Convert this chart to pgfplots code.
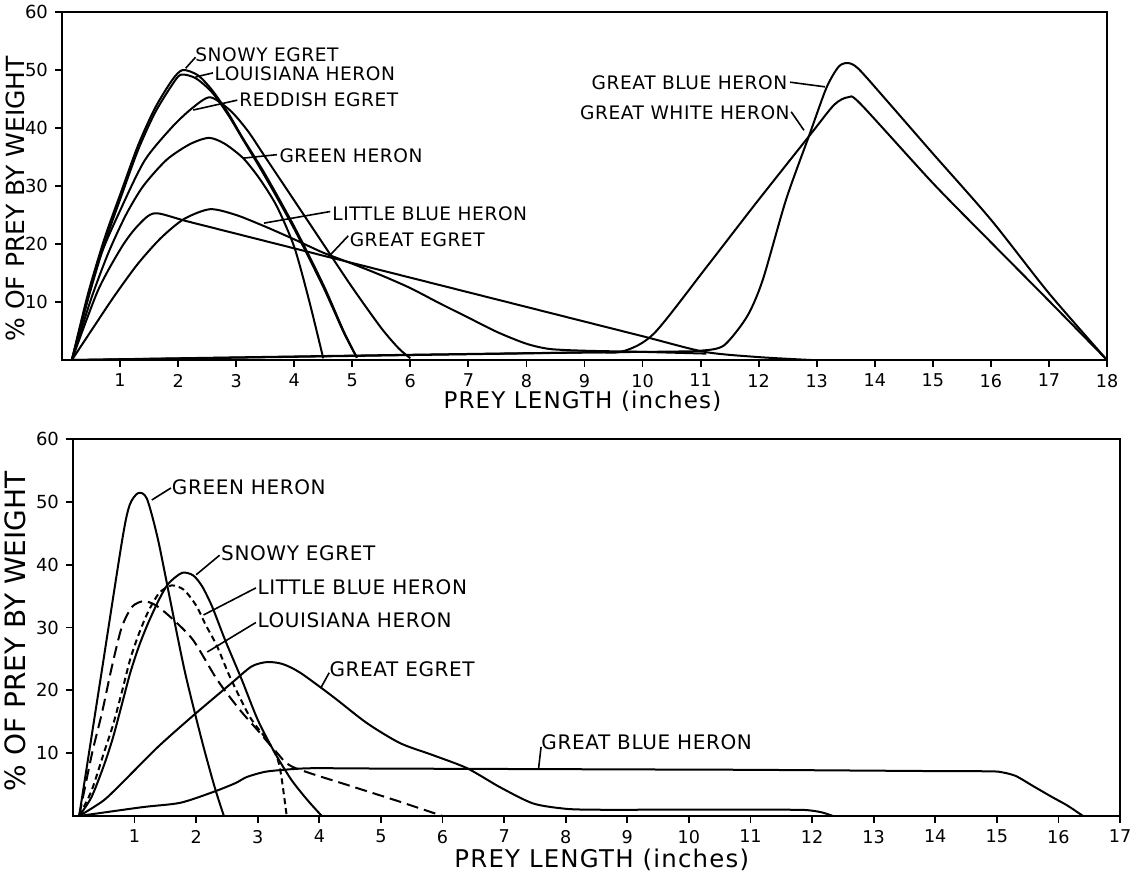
\documentclass[border=0pt]{standalone}
\usepackage{pgfplots}
\pgfplotsset{compat=1.18}
\usepackage{fontspec}
\setmainfont{DejaVu Sans}
\newfontfamily\lbl[LetterSpace=3]{DejaVu Sans}
\newfontfamily\axl[LetterSpace=5]{DejaVu Sans}
\pgfplotsset{
  heron/.style={
    scale only axis,
    axis line style={line width=1pt},
    tick align=outside, xtick pos=bottom, ytick pos=left,
    major tick length=3.5pt,
    tick style={line width=0.9pt, black},
    /pgf/number format/assume math mode=true,
    xticklabel style={font=\fontsize{8.8}{10}\selectfont},
    yticklabel style={font=\fontsize{9}{10}\selectfont},
    ymin=0, ymax=60, ytick={10,20,...,60},
    xmin=0,
    clip=false,
    cycle list={{black,solid,mark=none}},
    every axis plot/.append style={line width=1pt, smooth, tension=0.45},
  },
}
\tikzset{
  lab/.style={anchor=west, inner sep=0pt, font={\lbl\fontsize{9.3}{11}\selectfont}},
  labB/.style={anchor=west, inner sep=0pt, font={\lbl\fontsize{10}{12}\selectfont}},
  lead/.style={line width=0.8pt, black},
}
\begin{document}
\begin{tikzpicture}
\path[use as bounding box] (0,0) rectangle (572pt,436.5pt);
% ---------------- TOP PANEL ----------------
\begin{axis}[heron,
  at={(31pt,256.5pt)}, anchor=south west,
  width=522.5pt, height=174pt,
  xmax=18, xtick={1,...,18},
  xlabel={\axl\fontsize{11.5}{14}\selectfont PREY LENGTH (inches)},
  xlabel style={at={(axis description cs:0.498,-0.118)}, anchor=center},
  ylabel={\fontsize{12.5}{14}\selectfont\% OF PREY BY WEIGHT},
  ylabel style={at={(axis description cs:-0.045,0.463)}, anchor=center},
]
% Snowy Egret
\addplot coordinates {(0.17,0) (0.45,11.5) (0.74,21.2) (1.03,29.3) (1.31,37.0) (1.6,43.4) (1.9,48.3) (2.08,50) (2.34,49.1) (2.58,46.6) (2.86,42.6) (3.1,38.5) (3.5,32) (4.0,23) (4.5,13) (4.85,5) (5.08,0.4)};
% Louisiana Heron
\addplot coordinates {(0.17,0) (0.45,10.6) (0.74,20.3) (1.03,28.5) (1.31,36.2) (1.6,42.6) (1.9,47.5) (2.05,49.2) (2.3,48.6) (2.58,46.2) (2.86,42.3) (3.1,38.3) (3.5,31.6) (4.0,22.6) (4.5,12.6) (4.85,4.8) (5.08,0.4)};
% Reddish Egret
\addplot coordinates {(0.17,0) (0.62,16.7) (1.03,26.4) (1.43,34.5) (1.9,40.2) (2.24,43.4) (2.55,45.3) (2.9,43) (3.2,39.5) (3.5,35) (4.0,27.5) (4.5,20) (5.0,12.5) (5.5,5.5) (5.8,2) (6.0,0.3)};
% Green Heron
\addplot coordinates {(0.17,0) (0.5,10.5) (0.8,18.5) (1.1,25) (1.4,30) (1.8,34.5) (2.2,37.2) (2.53,38.3) (2.8,37.3) (3.12,34.8) (3.4,31.3) (3.7,26.5) (4.0,19.5) (4.25,10.5) (4.5,0.3)};
% Little Blue Heron
\addplot coordinates {(0.17,0) (0.5,5) (0.9,11) (1.3,16.5) (1.7,21) (2.1,24.3) (2.55,26) (3.0,25) (3.5,23) (4.0,20.8) (4.5,18.5) (5.0,16.6) (5.5,14.6) (6.0,12.4) (6.5,9.8) (7.0,7.3) (7.5,4.8) (8.0,2.8) (8.4,1.9) (9,1.6) (10,1.4) (11.1,1.1)};
% Great Egret
\addplot coordinates {(0.17,0) (0.62,12) (1.03,19.5) (1.31,23.2) (1.6,25.3) (2.2,23.8) (4,19.25) (6,14.2) (8,9.15) (10,4.1) (11.07,1.4) (12,0.5) (12.9,0)};
% Great Blue Heron
\addplot coordinates {(0.17,0) (3,0.45) (6,0.9) (9,1.3) (10.5,1.45) (11.0,1.6) (11.4,2.5) (11.8,7.5) (12.07,13.8) (12.47,27.6) (12.88,39) (13.17,47) (13.38,50.6) (13.54,51.2) (13.72,50.2) (14.2,44.8) (15,35.6) (16,24.2) (17,11.5) (18,0)};
% Great White Heron
\addplot coordinates {(0.17,0) (3,0.4) (6,0.85) (9,1.3) (9.66,1.5) (10.2,4.6) (11.1,16) (11.95,27) (12.9,39) (13.3,44) (13.54,45.3) (13.75,44.2) (15,30.5) (16,20.3) (17,10.2) (18,0)};
% labels
\node[lab] at (axis cs:2.29,52.6) {SNOWY EGRET};
\draw[lead] (axis cs:2.13,50.3) -- (axis cs:2.3,52.2);
\node[lab] at (axis cs:2.62,49.4) {LOUISIANA HERON};
\draw[lead] (axis cs:2.3,48.8) -- (axis cs:2.6,49.5);
\node[lab] at (axis cs:3.05,44.8) {REDDISH EGRET};
\draw[lead] (axis cs:2.26,43.1) -- (axis cs:3.02,44.8);
\node[lab] at (axis cs:3.74,35.3) {GREEN HERON};
\draw[lead] (axis cs:3.12,34.8) -- (axis cs:3.7,35.4);
\node[lab] at (axis cs:4.65,25.3) {LITTLE BLUE HERON};
\draw[lead] (axis cs:3.48,23.6) -- (axis cs:4.62,25.6);
\node[lab] at (axis cs:4.95,20.7) {GREAT EGRET};
\draw[lead] (axis cs:4.62,18.1) -- (axis cs:4.93,21.4);
\node[lab, anchor=east] at (axis cs:12.5,47.8) {GREAT BLUE HERON};
\draw[lead] (axis cs:12.54,47.9) -- (axis cs:13.14,47.1);
\node[lab, anchor=east] at (axis cs:12.54,42.7) {GREAT WHITE HERON};
\draw[lead] (axis cs:12.56,42.8) -- (axis cs:12.78,39.6);
\end{axis}
% ---------------- BOTTOM PANEL ----------------
\begin{axis}[heron,
  at={(36.5pt,28.5pt)}, anchor=south west,
  width=523.5pt, height=188.5pt,
  xmax=17, xtick={1,...,17},
  xlabel={\axl\fontsize{12.2}{14}\selectfont PREY LENGTH (inches)},
  xlabel style={at={(axis description cs:0.505,-0.117)}, anchor=center},
  ylabel={\fontsize{14}{16}\selectfont\% OF PREY BY WEIGHT},
  ylabel style={at={(axis description cs:-0.0554,0.49)}, anchor=center},
]
% Green Heron
\addplot coordinates {(0.1,0) (0.45,22) (0.8,44) (0.92,49.5) (1.06,51.4) (1.2,50.5) (1.38,44) (1.6,33.3) (1.82,22.8) (2.09,12.1) (2.3,4.6) (2.45,0)};
% Snowy Egret
\addplot coordinates {(0.1,0) (0.3,3) (0.5,8) (0.65,12.5) (0.8,18) (0.93,22.8) (1.07,27) (1.22,30.7) (1.4,34.5) (1.55,37) (1.77,38.7) (1.95,38.3) (2.1,36.5) (2.26,33.3) (2.47,28) (2.74,21.7) (3.0,15.3) (3.28,10) (3.55,5.7) (3.81,2.5) (4.04,0)};
% Little Blue Heron
\addplot[densely dashed] coordinates {(0.1,0) (0.3,4) (0.5,10) (0.65,14.5) (0.8,20) (0.93,25) (1.07,29) (1.22,32.5) (1.4,35.5) (1.6,36.7) (1.8,36) (2.0,33.5) (2.15,30.5) (2.34,27) (2.55,22.1) (2.87,15.8) (3.15,12.1) (3.31,9.4) (3.38,6.5) (3.47,0)};
% Louisiana Heron
\addplot[dash pattern=on 6pt off 3pt] coordinates {(0.1,0) (0.31,10) (0.47,16.4) (0.63,23.7) (0.79,30) (0.96,33.3) (1.15,34.2) (1.35,33.5) (1.6,31.5) (1.95,28) (2.34,21.7) (2.7,17) (3.02,13.4) (3.3,10.2) (3.57,7.8) (4.5,4.8) (5.3,2.3) (6.0,0)};
% Great Egret
\addplot coordinates {(0.1,0) (0.5,2.5) (0.84,5.7) (1.38,11) (1.93,15.8) (2.58,21.2) (2.9,23.8) (3.15,24.5) (3.4,24.2) (3.69,22.8) (4.22,19) (4.77,14.8) (5.31,11.6) (5.84,9.7) (6.4,7.6) (6.93,4.6) (7.47,2) (8.0,1.15) (8.5,1.0) (9.5,1.0) (10.5,1.0) (11.5,1.0) (11.9,0.95) (12.15,0.6) (12.34,0)};
% Great Blue Heron
\addplot coordinates {(0.1,0) (1.12,1.4) (1.74,2.1) (2.27,3.8) (2.63,5.2) (2.82,6.2) (3.1,7) (3.36,7.3) (3.85,7.6) (5,7.55) (6.5,7.5) (8,7.45) (9.5,7.4) (11,7.35) (12.5,7.25) (14,7.15) (14.8,7.12) (15.03,7.05) (15.3,6.4) (15.6,4.7) (15.9,3) (16.14,1.7) (16.4,0)};
% labels
\node[labB] at (axis cs:1.6,52.3) {GREEN HERON};
\draw[lead] (axis cs:1.28,50.3) -- (axis cs:1.59,52.2);
\node[labB] at (axis cs:2.4,41.9) {SNOWY EGRET};
\draw[lead] (axis cs:2.0,38.4) -- (axis cs:2.38,41.5);
\node[labB] at (axis cs:2.99,36.4) {LITTLE BLUE HERON};
\draw[lead] (axis cs:2.12,32) -- (axis cs:2.97,36.3);
\node[labB] at (axis cs:2.99,31.2) {LOUISIANA HERON};
\draw[lead] (axis cs:2.18,26.1) -- (axis cs:2.97,30.8);
\node[labB] at (axis cs:4.16,23.3) {GREAT EGRET};
\draw[lead] (axis cs:4.03,20.5) -- (axis cs:4.16,22.8);
\node[labB] at (axis cs:7.6,11.8) {GREAT BLUE HERON};
\draw[lead] (axis cs:7.56,7.6) -- (axis cs:7.6,11);
\end{axis}
\end{tikzpicture}
\end{document}
